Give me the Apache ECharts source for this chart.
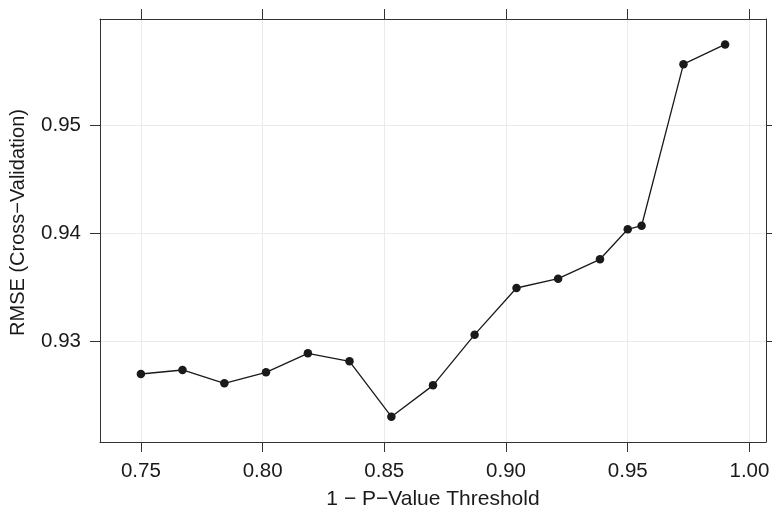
<!DOCTYPE html>
<html><head><meta charset="utf-8">
<script src="https://cdn.jsdelivr.net/npm/echarts@6/dist/echarts.min.js"></script>
<style>html,body{margin:0;padding:0;background:#fff}#c{width:772px;height:509px}</style>
</head><body><div id="c"></div>
<script>
const thresholds = [0.75, 0.7671, 0.7843, 0.8014, 0.8186, 0.8357, 0.8529, 0.8700, 0.8871, 0.9043, 0.9214, 0.9386, 0.95, 0.9557, 0.9729, 0.99];
const rmse = [0.92702, 0.92739, 0.92616, 0.92717, 0.92893, 0.92819, 0.92308, 0.92597, 0.93065, 0.93496, 0.93582, 0.93761, 0.94038, 0.94071, 0.95563, 0.95745];
const xTicks = [0.75, 0.80, 0.85, 0.90, 0.95, 1.00];
const yTicks = [0.93, 0.94, 0.95];
const xTitle = '1 \u2212 P\u2212Value Threshold';
const yTitle = 'RMSE (Cross\u2212Validation)';

const font = 'Liberation Sans';
const xMin = 0.7332, xMax = 1.0068, yMin = 0.92074, yMax = 0.9598;
const frame = {show: true, onZero: false, lineStyle: {color: '#333', width: 1}};
const tickStyle = {show: true, inside: false, length: 10, lineStyle: {color: '#333', width: 1}};
const grid = {show: true, lineStyle: {color: '#ebebeb', width: 1}};

const chart = echarts.init(document.getElementById('c'), null, {renderer: 'canvas'});
chart.setOption({
  animation: false,
  backgroundColor: '#fff',
  grid: {left: 100, right: 6, top: 19, bottom: 67, containLabel: false, outerBoundsMode: 'none'},
  xAxis: [
    {type: 'value', position: 'bottom', min: xMin, max: xMax,
     axisLine: frame, axisTick: Object.assign({customValues: xTicks}, tickStyle),
     axisLabel: {customValues: xTicks, margin: 19, color: '#1a1a1a', fontFamily: font, fontSize: 20.5,
       formatter: v => v.toFixed(2)},
     splitLine: grid,
     name: xTitle, nameLocation: 'middle', nameGap: 47,
     nameTextStyle: {color: '#1a1a1a', fontFamily: font, fontSize: 21}},
    {type: 'value', position: 'top', min: xMin, max: xMax,
     axisLine: frame, axisTick: Object.assign({customValues: xTicks}, tickStyle),
     axisLabel: {show: false}, splitLine: {show: false}}
  ],
  yAxis: [
    {type: 'value', position: 'left', min: yMin, max: yMax,
     axisLine: frame, axisTick: Object.assign({customValues: yTicks}, tickStyle),
     axisLabel: {customValues: yTicks, margin: 19, color: '#1a1a1a', fontFamily: font, fontSize: 20.5,
       formatter: v => v.toFixed(2)},
     splitLine: grid,
     name: yTitle, nameLocation: 'middle', nameGap: 72, nameRotate: 90,
     nameTextStyle: {color: '#1a1a1a', fontFamily: font, fontSize: 20, padding: [0, 0, 0, 16]}},
    {type: 'value', position: 'right', min: yMin, max: yMax,
     axisLine: frame, axisTick: Object.assign({customValues: yTicks}, tickStyle),
     axisLabel: {show: false}, splitLine: {show: false}}
  ],
  series: [{
    type: 'line',
    data: thresholds.map((x, i) => [x, rmse[i]]),
    symbol: 'circle', symbolSize: 8.5,
    itemStyle: {color: '#1a1a1a'},
    lineStyle: {color: '#1a1a1a', width: 1.3}
  }]
});
</script></body></html>
